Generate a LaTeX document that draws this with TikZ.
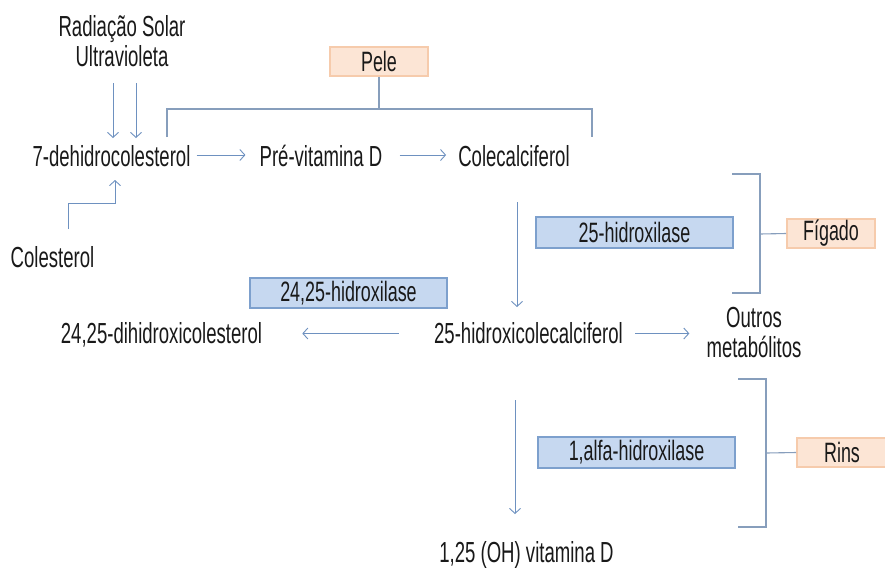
\documentclass[tikz,border=0pt]{standalone}
\usepackage{fontspec}
\setmainfont[FakeStretch=0.64]{Liberation Sans}
\usetikzlibrary{arrows.meta}
\definecolor{arrc}{RGB}{110,145,192}
\definecolor{brkc}{RGB}{135,158,188}
\definecolor{bluef}{RGB}{198,216,240}
\definecolor{blued}{RGB}{125,160,205}
\definecolor{peachf}{RGB}{252,229,213}
\definecolor{peachd}{RGB}{246,203,172}
\definecolor{txtc}{RGB}{25,25,25}
\begin{document}
\begin{tikzpicture}[x=1pt,y=-1pt,
  txt/.style={font=\fontsize{29}{30}\selectfont, inner sep=0pt, anchor=base, text=txtc},
  txtc/.style={font=\fontsize{29}{30}\selectfont, inner sep=0pt, align=center, text=txtc},
  enz/.style={draw=blued, fill=bluef, line width=1.6pt, minimum width=197pt, minimum height=31pt, inner sep=0pt, text=txtc, font=\fontsize{28}{30}\selectfont},
  org/.style={draw=peachd, fill=peachf, line width=1.6pt, minimum height=29pt, inner sep=0pt, text=txtc, font=\fontsize{28}{30}\selectfont},
  arr/.style={draw=arrc, line width=0.9pt, -{Straight Barb[length=5pt,width=11pt,line width=0.9pt]}},
  brk/.style={draw=brkc, line width=1.1pt}]
\useasboundingbox (0,0) rectangle (885,568);
\fill[white] (0,0) rectangle (885,568);

% text nodes
\node[txtc] (rad) at (122,41.5) {Radiação Solar\\Ultravioleta};
\node[txt] (dhc) at (111.5,166) {7-dehidrocolesterol};
\node[txt] (pre) at (321,166) {Pré-vitamina D};
\node[txt] (col) at (514,166) {Colecalciferol};
\node[txt] (chol) at (52.5,267) {Colesterol};
\node[txt] (h25) at (528.5,343) {25-hidroxicolecalciferol};
\node[txt] (dih) at (161.5,343) {24,25-dihidroxicolesterol};
\node[txtc] (outros) at (754,332.5) {Outros\\metabólitos};
\node[txt] (vitd) at (526.5,562) {1,25 (OH) vitamina D};

% boxes
\node[org, minimum width=98pt] (pele) at (379,61.5) {Pele};
\node[enz] (e25) at (634.5,232.5) {25-hidroxilase};
\node[org, minimum width=88pt] (fig) at (831,233.5) {Fígado};
\node[enz, minimum height=30pt] (e2425) at (348.5,293) {24,25-hidroxilase};
\node[enz] (e1a) at (636.5,452.5) {1,alfa-hidroxilase};
\node[org, minimum width=90pt] (rins) at (842,452.5) {Rins};

% helper coordinates
\coordinate (row1) at (0,155);
\coordinate (row2) at (0,333.5);
\coordinate (uv1s) at (113,83);  \coordinate (uv1e) at (113,138);
\coordinate (uv2s) at (136,83);  \coordinate (uv2e) at (136,138);
\coordinate (ch1) at (68,229);   \coordinate (ch2) at (68,203);
\coordinate (ch3) at (115,203);  \coordinate (ch4) at (115,180);
\coordinate (cv1) at (517,202);  \coordinate (cv2) at (517,307);
\coordinate (hv1) at (515,400);  \coordinate (hv2) at (515,514);
\coordinate (pk) at (379,109);
\coordinate (pl) at (167,109);   \coordinate (pld) at (167,137);
\coordinate (pr) at (592,109);   \coordinate (prd) at (592,137);
\coordinate (f1) at (732,174);   \coordinate (f2) at (760,174);
\coordinate (f3) at (760,293);   \coordinate (f4) at (732,293);
\coordinate (fm) at (760,234);
\coordinate (k1) at (738,379);   \coordinate (k2) at (766,379);
\coordinate (k3) at (766,527);   \coordinate (k4) at (738,527);
\coordinate (km) at (766,453);

% arrows
\draw[arr] (uv1s) -- (uv1e);
\draw[arr] (uv2s) -- (uv2e);
\draw[arr] ([xshift=6pt]dhc.east |- row1) -- ([xshift=-14pt]pre.west |- row1);
\draw[arr] ([xshift=17pt]pre.east |- row1) -- ([xshift=-12pt]col.west |- row1);
\draw[arr] (ch1) -- (ch2) -- (ch3) -- (ch4);
\draw[arr] (cv1) -- (cv2);
\draw[arr] ([xshift=12pt]h25.east |- row2) -- ([xshift=-17pt]outros.west |- row2);
\draw[arr] ([xshift=-35pt]h25.west |- row2) -- ([xshift=40pt]dih.east |- row2);
\draw[arr] (hv1) -- (hv2);

% brackets
\draw[brk] (pele.south) -- (pk);
\draw[brk] (pld) -- (pl) -- (pr) -- (prd);
\draw[brk] (f1) -- (f2) -- (f3) -- (f4);
\draw[brk] (fm) -- (fig.west);
\draw[brk] (k1) -- (k2) -- (k3) -- (k4);
\draw[brk] (km) -- (rins.west);
\end{tikzpicture}
\end{document}
